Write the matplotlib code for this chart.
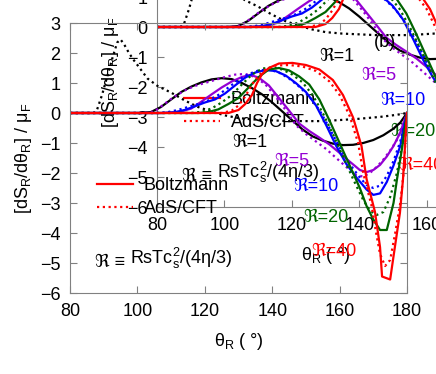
import numpy as np
import matplotlib
matplotlib.use('Agg')
import matplotlib.pyplot as plt

plt.rcParams['font.family'] = ['Liberation Sans', 'DejaVu Sans']
plt.rcParams['mathtext.fontset'] = 'custom'
plt.rcParams['mathtext.rm'] = 'Liberation Sans'
plt.rcParams['mathtext.it'] = 'Liberation Sans:italic'
plt.rcParams['mathtext.default'] = 'rm'

# curve data: theta_R (deg), dS_R/dtheta_R / mu_F
th_b1 = [80, 101, 104, 107, 110, 113, 116, 119, 122, 125, 128, 131, 134, 137, 140, 143, 146, 149, 152, 155, 158, 161, 164, 167, 170, 173, 176, 178, 180]
v_b1 = [0, 0, 0.03, 0.2, 0.45, 0.7, 0.88, 1.02, 1.12, 1.16, 1.13, 1.0, 0.83, 0.62, 0.35, 0.05, -0.25, -0.55, -0.78, -0.92, -1.02, -1.07, -1.06, -1.0, -0.9, -0.74, -0.52, -0.32, 0]
th_a1 = [80, 87, 88, 89.5, 91, 92.5, 94, 95, 96, 97.5, 99, 101, 103, 106, 110, 114, 118, 122, 126, 130, 135, 145, 155, 165, 172, 177, 180]
v_a1 = [0, 0, 0.1, 0.6, 1.2, 1.8, 2.35, 2.45, 2.3, 2.0, 1.75, 1.45, 1.15, 0.9, 0.68, 0.42, 0.2, 0.05, -0.08, -0.17, -0.22, -0.27, -0.27, -0.2, -0.13, -0.06, 0]

th_b5 = [80, 107, 110, 113, 116, 119, 122, 125, 128, 131, 133.5, 136, 139, 142, 145, 148, 151, 154, 157, 160, 163, 166, 168, 170, 172, 174, 176, 178, 180]
v_b5 = [0, 0, 0.02, 0.05, 0.15, 0.38, 0.62, 0.85, 1.05, 1.2, 1.27, 1.18, 0.92, 0.5, 0.08, -0.35, -0.6, -0.82, -1.05, -1.33, -1.62, -1.9, -1.97, -1.9, -1.73, -1.45, -1.1, -0.65, 0]
th_a5 = [80, 102, 105, 108, 111, 114, 117, 120, 123, 126, 129, 132, 135, 138, 141, 144, 147, 150, 153, 156, 159, 162, 165, 167, 169, 171, 173, 175, 177, 180]
v_a5 = [0, 0, 0.05, 0.3, 0.55, 0.75, 0.9, 1.0, 1.1, 1.2, 1.28, 1.3, 1.2, 0.95, 0.55, 0.1, -0.4, -0.7, -0.95, -1.2, -1.5, -1.8, -2.07, -2.12, -2.0, -1.8, -1.55, -1.25, -0.9, 0]

th_b10 = [80, 108, 111, 114, 117, 120, 123, 126, 129, 132, 135, 138, 141, 144, 147, 150, 153, 156, 159, 162, 165, 168, 170, 172, 174, 176, 178, 180]
v_b10 = [0, 0, 0.02, 0.1, 0.22, 0.35, 0.45, 0.65, 0.92, 1.18, 1.35, 1.43, 1.4, 1.25, 1.0, 0.7, 0.25, -0.4, -1.1, -1.7, -2.15, -2.55, -2.73, -2.68, -2.3, -1.75, -1.1, 0]
th_a10 = [80, 106, 109, 112, 115, 118, 121, 124, 127, 130, 133, 136, 139, 142, 145, 148, 151, 154, 157, 160, 163, 166, 168, 170, 172, 174, 176, 178, 180]
v_a10 = [0, 0, 0.03, 0.1, 0.2, 0.3, 0.42, 0.6, 0.85, 1.1, 1.3, 1.42, 1.45, 1.35, 1.15, 0.88, 0.55, 0.1, -0.5, -1.15, -1.7, -2.15, -2.4, -2.5, -2.42, -2.1, -1.6, -0.95, 0]

th_b20 = [80, 118, 121, 124, 127, 130, 133, 136, 139, 142, 145, 148, 151, 154, 157, 160, 163, 166, 168, 170, 172, 174, 176, 177, 178.5, 180]
v_b20 = [0, 0, 0.03, 0.12, 0.3, 0.5, 0.85, 1.2, 1.45, 1.5, 1.42, 1.22, 0.95, 0.45, -0.25, -1.0, -1.75, -2.5, -3.1, -3.55, -3.9, -3.9, -3.0, -2.23, -1.2, 0]
th_a20 = [80, 116, 119, 122, 125, 128, 131, 134, 137, 140, 143, 146, 149, 152, 155, 158, 161, 164, 167, 169, 171, 173, 175, 177, 178.5, 180]
v_a20 = [0, 0, 0.04, 0.15, 0.35, 0.6, 0.95, 1.28, 1.48, 1.52, 1.45, 1.28, 1.02, 0.6, 0.0, -0.7, -1.45, -2.2, -2.9, -3.25, -3.4, -3.3, -2.8, -2.0, -1.1, 0]

th_b40 = [80, 127, 130, 132, 134, 135.5, 137, 139, 142, 146, 150, 154, 158, 161, 164, 166.5, 168, 170.5, 172, 172.6, 175, 176.4, 177.9, 178.8, 180]
v_b40 = [0, 0, 0.1, 0.3, 0.6, 1.0, 1.3, 1.5, 1.65, 1.67, 1.6, 1.45, 1.1, 0.6, -0.15, -1.1, -2.2, -3.3, -4.47, -5.45, -5.55, -4.47, -3.33, -2.23, 0]
th_a40 = [80, 125, 128, 130, 132, 134, 136, 138, 141, 145, 149, 153, 157, 160, 163, 165.5, 167, 169.5, 171, 172, 173.5, 175, 176.5, 178, 179, 180]
v_a40 = [0, 0, 0.08, 0.25, 0.55, 0.95, 1.25, 1.45, 1.58, 1.6, 1.55, 1.4, 1.05, 0.6, -0.1, -1.0, -2.0, -3.1, -4.1, -4.7, -5.1, -4.9, -4.0, -3.0, -2.0, 0]

R_labels = ['ℜ=1', 'ℜ=5', 'ℜ=10', 'ℜ=20', 'ℜ=40']
colors = ['black', '#9400d3', '#0000ff', '#006400', '#ff0000']
label_x = [133.4, 145.9, 153.0, 156.0, 158.3]
label_y = [-0.97, -1.63, -2.45, -3.47, -4.63]

boltz = [(th_b1, v_b1), (th_b5, v_b5), (th_b10, v_b10), (th_b20, v_b20), (th_b40, v_b40)]
ads = [(th_a1, v_a1), (th_a5, v_a5), (th_a10, v_a10), (th_a20, v_a20), (th_a40, v_a40)]

fs = 13
gray = '0.5'


def draw(ax, panel_b=False):
    ax.set_facecolor('none')
    for i in range(5):
        lb, = ax.plot(boltz[i][0], boltz[i][1], color=colors[i], lw=1.6)
        la, = ax.plot(ads[i][0], ads[i][1], color=colors[i], lw=1.6,
                      linestyle=(0, (1, 1.6)))
        ax.text(label_x[i], label_y[i], R_labels[i], color=colors[i],
                fontsize=fs, ha='center', va='center')
    ax.legend([lb, la], ['Boltzmann', 'AdS/CFT'], loc='upper left',
              bbox_to_anchor=(0.08, 0.43), frameon=False, fontsize=fs,
              handlelength=2.0, handletextpad=0.6, labelspacing=0.35,
              borderpad=0, borderaxespad=0)
    # definition of R: plain part + mathtext part (so the ℜ glyph comes from DejaVu)
    t = ax.text(87.4, -4.97, 'ℜ ≡ ', fontsize=fs, ha='left', va='center')
    ax.annotate('RsTc$_s^2$/(4η/3)', xy=(1, 0), xycoords=t, fontsize=fs,
                ha='left', va='bottom')
    if panel_b:
        ax.text(147.7, -0.53, '(b)', fontsize=fs, ha='center', va='center')
    ax.set_xlim(80, 180)
    ax.set_ylim(-6, 3)
    ax.set_xticks(np.arange(80, 181, 20))
    ax.set_yticks(np.arange(-6, 4, 1))
    ax.tick_params(direction='in', top=True, right=True, length=5,
                   color=gray, labelsize=fs, pad=7)
    for s in ax.spines.values():
        s.set_color(gray)
    ax.set_xlabel('θ$_R$ ( °)', fontsize=fs, labelpad=8)
    ax.set_ylabel('[dS$_R$/dθ$_R$] / μ$_F$', fontsize=fs, labelpad=4)


fig = plt.figure(figsize=(4.36, 3.74), dpi=100)
ax2 = fig.add_axes([157 / 436, 1 - 207 / 374, 337 / 436, 270 / 374])
ax1 = fig.add_axes([70 / 436, 1 - 293 / 374, 337 / 436, 270 / 374])
draw(ax2, panel_b=True)
draw(ax1)
fig.savefig('out.png', dpi=100)
